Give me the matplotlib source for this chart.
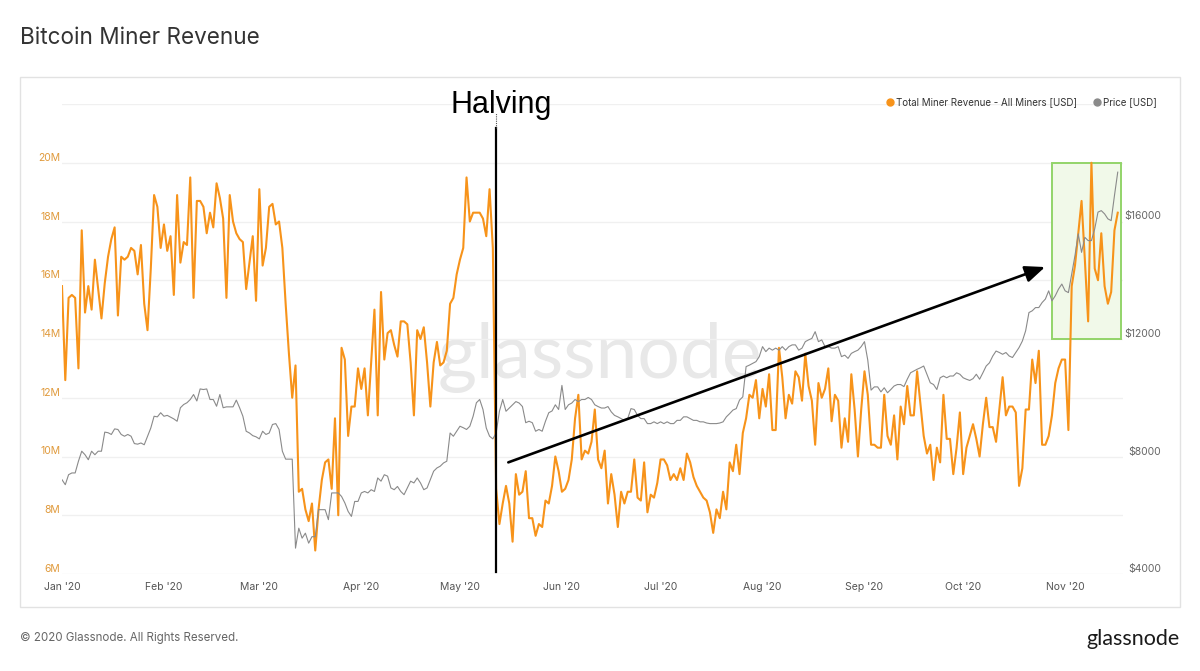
import pandas as pd
import matplotlib
matplotlib.use("Agg")
import matplotlib.pyplot as plt
import matplotlib.dates as mdates
from matplotlib.lines import Line2D
from matplotlib.patches import Rectangle

## Data (daily, 2020-01-01 .. 2020-11-17)

# total miner revenue, millions of USD
revenue_m = [
    15.8, 12.6, 15.4, 15.5, 15.4, 13.0, 17.7, 14.9, 15.8, 15.0,
    16.7, 15.7, 14.7, 15.9, 16.8, 17.4, 17.8, 14.8, 16.8, 16.7,
    16.8, 17.1, 17.0, 16.2, 17.2, 15.2, 14.3, 16.4, 18.9, 18.5,
    17.1, 17.9, 17.0, 17.5, 15.5, 18.9, 16.6, 17.3, 17.2, 19.5,
    15.4, 18.7, 18.7, 18.5, 17.6, 18.3, 17.8, 19.3, 18.8, 18.1,
    15.4, 18.9, 18.0, 17.6, 17.4, 17.3, 15.7, 16.6, 17.5, 15.3,
    19.1, 16.5, 17.1, 18.5, 18.6, 17.9, 18.0, 17.1, 15.2, 13.5,
    12.0, 13.1, 8.8, 8.9, 8.2, 7.8, 8.4, 6.8,
    8.2, 9.2, 9.8, 9.9, 8.9, 11.3, 8.0, 13.7, 13.3, 10.7,
    11.7, 11.7, 13.0, 12.3, 13.0, 11.4, 13.2, 15.0, 11.4, 15.6,
    13.3, 14.2, 14.3, 13.8, 13.4, 14.6, 14.6, 14.5, 13.2, 11.4,
    14.3, 14.0, 14.4, 13.2, 11.7, 13.2, 13.9, 13.1, 13.2, 13.6,
    15.2, 15.4, 16.2, 16.7, 17.1, 19.5, 18.0, 18.3, 18.3, 18.3,
    18.1, 17.5, 19.1, 17.1,
    8.9, 7.7, 8.4, 9.0, 8.4, 7.1, 9.4, 8.7, 8.8, 9.5,
    7.9, 7.9, 7.3, 7.7, 7.6, 8.5, 8.4, 9.0, 10.0, 9.5,
    8.8, 8.9, 9.2, 9.9, 11.3, 12.1, 9.9, 10.2, 10.1, 10.5,
    11.6, 9.9, 9.6, 10.2, 8.4,
    9.4, 8.7, 7.6, 8.8, 8.4, 8.8, 8.8, 9.9, 8.6, 8.5,
    9.8, 8.1, 8.7, 8.6, 9.1, 9.9, 9.9, 9.7, 9.2, 9.4,
    9.2, 9.6, 9.2, 10.1, 9.8, 9.3, 9.0, 8.8, 8.6, 8.5,
    8.1, 7.4, 8.2, 7.9, 8.8, 8.2, 9.8, 9.5, 10.4, 9.4,
    10.8, 11.3, 12.1, 12.0, 12.6, 11.3, 12.3, 11.7, 12.8, 10.9,
    10.9, 13.7, 12.7, 11.3, 12.1, 11.8, 12.9, 12.7, 11.9, 13.5,
    12.4, 11.9, 10.4, 12.5, 12.0, 12.3, 13.0, 11.2, 12.1, 11.9,
    10.3, 11.3, 10.5, 12.8, 11.6, 10.0, 11.6, 12.9, 12.1, 10.4,
    10.4, 10.3, 10.3,
    12.1, 10.7, 10.4, 11.4, 9.9, 11.7, 11.1, 12.4, 11.4, 11.4,
    12.9, 11.8, 10.7, 10.1, 10.4, 9.2, 10.3, 9.8, 12.1, 10.6,
    10.6, 9.4, 10.3, 11.5, 9.4, 10.3, 10.7, 11.1, 10.6, 10.0,
    11.1, 12.0, 11.0, 11.0, 10.5, 11.6, 12.7, 11.4, 11.7, 11.7,
    11.5, 9.0, 9.6, 11.6, 11.6, 13.3, 12.5, 13.6, 10.4, 10.4,
    10.7, 11.4, 12.5, 13.0, 13.3, 13.3, 10.9, 15.8, 16.5, 17.6,
    18.7, 16.7, 14.6, 20.0, 16.4, 16.0, 17.6, 15.8, 15.2, 15.6,
    17.7, 18.3,
]

# BTC price, USD
price_usd = [
    7210, 7040, 7380, 7440, 7440, 7840, 8180, 8060, 7890, 8180,
    8060, 8180, 8180, 8830, 8810, 8750, 8940, 8920, 8750, 8690,
    8750, 8690, 8440, 8420, 8460, 8400, 8690, 8970, 9370, 9350,
    9490, 9370, 9400, 9340, 9280, 9200, 9660, 9770, 9830, 9940,
    10110, 9890, 10300, 10280, 10300, 9940, 9940, 9710, 10110, 9660,
    9690, 9690, 9690, 9920, 9660, 9370, 8860, 8800, 8710, 8670,
    8600, 8860, 8750, 8800, 9090, 9120, 8920, 8180, 7910, 7910,
    7910, 4880, 5560, 5220, 5390, 5050, 5270, 5270,
    6190, 6190, 6190, 5850, 6760, 6760, 6760, 6640, 6420, 6130,
    5960, 6470, 6470, 6760, 6810, 6760, 6870, 6810, 7270, 7160,
    7380, 7330, 6930, 6870, 6980, 6810, 6700, 6930, 7160, 7100,
    7270, 7100, 6870, 6930, 7210, 7500, 7610, 7670, 7780, 7840,
    8800, 8690, 8860, 9030, 8980, 8920, 9030, 9370, 9830, 9940,
    9600, 8970, 8690, 8600,
    8800, 9540, 9940, 9540, 9650, 9760, 9870, 9820, 9700, 9150,
    9200, 9150, 8860, 8920, 8860, 9200, 9490, 9550, 9760, 9600,
    10420, 9600, 9760, 9820, 9940, 9870, 9940, 9940, 10010, 9940,
    9760, 9700, 9650, 9650, 9700,
    9520, 9400, 9350, 9290, 9230, 9290, 9630, 9600, 9400, 9290,
    9290, 9120, 9120, 9180, 9120, 9180, 9120, 9180, 9120, 9120,
    9230, 9230, 9350, 9350, 9290, 9230, 9230, 9180, 9180, 9140,
    9120, 9120, 9120, 9140, 9180, 9350, 9460, 9580, 9630, 9920,
    10030, 11060, 11110, 11170, 11230, 11400, 11740, 11570, 11690, 11620,
    11690, 11620, 11740, 11620, 11740, 11800, 11800, 11620, 11690, 11910,
    11970, 12020, 12250, 11910, 11970, 11740, 11740, 11690, 11690, 11740,
    11400, 11450, 11340, 11510, 11570, 11620, 11740, 11910, 11280, 10260,
    10370, 10370, 10200,
    10340, 10170, 10280, 10400, 10450, 10450, 10380, 10630, 10850, 10910,
    10970, 11020, 11080, 10800, 10510, 10450, 10280, 10680, 10740, 10680,
    10740, 10740, 10850, 10800, 10680, 10630, 10590, 10650, 10800, 10630,
    10850, 11080, 11190, 11420, 11590, 11540, 11480, 11540, 11420, 11370,
    11540, 11710, 11930, 12280, 12900, 12960, 13070, 13070, 13240, 13360,
    13640, 13300, 13470, 13700, 13870, 13640, 13580, 14210, 14840, 15580,
    14950, 15460, 15350, 15350, 15750, 16320, 16370, 16260, 16090, 16030,
    16880, 17680,
]

revenue_ticks = [6, 8, 10, 12, 14, 16, 18, 20, 22]
price_ticks = [4000, 8000, 12000, 16000]

dates = pd.date_range("2020-01-01", periods=len(revenue_m), freq="D")
halving = mdates.date2num(pd.Timestamp("2020-05-11 19:23"))

ORANGE = "#f7931a"
GREY = "#8a8a8a"

## Figure

fig = plt.figure(figsize=(12, 6.71), dpi=100)
W, H = 1200, 671

def fx(px):
    return px / W

def fy(py):
    return 1 - py / H

# panel frame
fig.patches.append(Rectangle((fx(20), fy(607)), fx(1160), 530 / H, transform=fig.transFigure,
                             fill=False, edgecolor="#e2e2e2", lw=1.0))

fig.text(fx(20), fy(38), "Bitcoin Miner Revenue", fontsize=16.2, family="Inter",
         color="#333333", va="center", ha="left")
fig.text(fx(20), fy(638), "\u00a9 2020 Glassnode. All Rights Reserved.", fontsize=8.3,
         family="Inter", color="#666666", va="center", ha="left")
fig.text(fx(1180), fy(639), "glassnode", fontsize=15.5, family="Lato", color="#1a1a1a",
         va="center", ha="right")

ax = fig.add_axes([fx(62), fy(574), fx(1123 - 62), (574 - 104) / H])
ax2 = ax.twinx()

x0 = mdates.date2num(dates[0])
ax.set_xlim(x0, x0 + 322.6)
ax.set_ylim(6, 22)
ax2.set_ylim(4000, 20000)

for a in (ax, ax2):
    for s in a.spines.values():
        s.set_visible(False)
    a.tick_params(length=0)

ax.set_yticks(revenue_ticks)
ax.set_yticklabels([f"{t}M" if t < 22 else "" for t in revenue_ticks], va="bottom")
ax.tick_params(axis="y", labelsize=7.5, labelcolor="#e09a3c", pad=1)
ax.yaxis.grid(True, color="#f0f0f0", lw=1.0)
ax.set_axisbelow(True)

ax2.set_yticks(price_ticks)
ax2.set_yticklabels([f"${t}" for t in price_ticks], va="bottom", ha="right")
ax2.tick_params(axis="y", labelsize=7.5, labelcolor="#666666", pad=27.5)

ax.xaxis.set_major_locator(mdates.MonthLocator())
ax.xaxis.set_major_formatter(mdates.DateFormatter("%b '%y"))
ax.tick_params(axis="x", labelsize=7.5, labelcolor="#555555", pad=6)
for lab in ax.get_xticklabels() + ax.get_yticklabels() + ax2.get_yticklabels():
    lab.set_family("Inter")

# watermark
ax.text(0.507, 0.46, "glassnode", transform=ax.transAxes, fontsize=54, family="Lato",
        color="#e8e8e8", ha="center", va="center", zorder=0)

# highlight box around the November run
box_start = x0 + 301.0
ax.add_patch(Rectangle((box_start, 14.0), 21.0, 6.0, facecolor="#f1f9e9",
                       edgecolor="#93d46a", lw=1.4, zorder=1))

ax.plot(dates, revenue_m, color=ORANGE, lw=1.5, zorder=2)
ax2.plot(dates, price_usd, color=GREY, lw=0.8, zorder=2)

# halving marker
ax2.axvline(halving, ymin=0.004, ymax=0.949, color="black", lw=1.6, zorder=5)
ax2.axvline(halving, ymin=0.949, ymax=0.981, color="#555555", lw=0.8, ls=(0, (1, 1)), zorder=5)
ax2.annotate("Halving", xy=(halving, 1.004), xycoords=ax2.get_xaxis_transform(),
             xytext=(4, -2), textcoords="offset points", fontsize=22,
             family="Liberation Sans", ha="center", va="center", annotation_clip=False)

# trend arrow
ax2.annotate("", xy=(x0 + 298.9, 16.45), xytext=(x0 + 135.7, 9.8),
             xycoords=ax.transData, textcoords=ax.transData,
             arrowprops=dict(arrowstyle="-|>,head_length=0.6,head_width=0.25",
                             color="black", lw=1.9, mutation_scale=20, shrinkA=0, shrinkB=0),
             zorder=6)

handles = [Line2D([], [], marker="o", ls="none", color=ORANGE, markersize=5),
           Line2D([], [], marker="o", ls="none", color=GREY, markersize=5)]
leg = fig.legend(handles, ["Total Miner Revenue - All Miners [USD]", "Price [USD]"],
                 loc="center right", bbox_to_anchor=(fx(1162), fy(102)), ncol=2,
                 frameon=False, fontsize=7, handletextpad=0.1, columnspacing=1.6,
                 borderpad=0, handlelength=1.0)
for t in leg.get_texts():
    t.set_family("Inter")
    t.set_color("#333333")

fig.savefig("out.png", dpi=100)
